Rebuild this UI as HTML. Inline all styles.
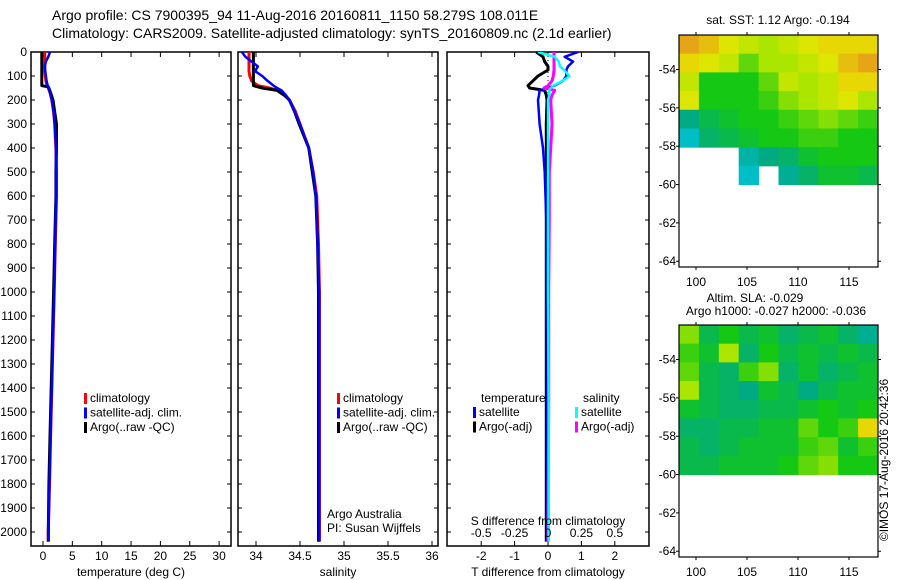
<!DOCTYPE html>
<html><head><meta charset="utf-8"><style>
body{margin:0;background:#fff;}
svg{display:block;font-family:"Liberation Sans",sans-serif;}
text{fill:#000;}
</style></head><body>
<svg id="c" width="900" height="580" xmlns="http://www.w3.org/2000/svg">
<text x="52" y="20" font-size="14">Argo profile: CS 7900395_94 11-Aug-2016 20160811_1150 58.279S 108.011E</text>
<text x="52" y="38" font-size="14">Climatology: CARS2009. Satellite-adjusted climatology: synTS_20160809.nc (2.1d earlier)</text>
<text x="778" y="24" font-size="12" text-anchor="middle">sat. SST: 1.12 Argo: -0.194</text>
<text x="755" y="302" font-size="12" text-anchor="middle">Altim. SLA: -0.029</text>
<text x="776" y="315" font-size="12" text-anchor="middle">Argo h1000: -0.027 h2000: -0.036</text>
<text transform="translate(888,460) rotate(-90)" font-size="12" text-anchor="middle">©IMOS 17-Aug-2016 20:42:36</text>
</svg>
<script>
// ---- data ----
const depthT=[0,20,40,60,80,100,120,140,145,150,170,200,250,300,400,500,600,800,1000,1200,1400,1600,1800,2000,2040];
const tempArgo=[-0.2,-0.2,-0.2,-0.2,-0.2,-0.2,-0.2,-0.2,0.9,1.0,1.3,1.7,2.0,2.3,2.3,2.2,2.2,2.0,1.8,1.6,1.4,1.2,1.0,0.9,0.9];
const tempSat=[1.2,0.9,0.5,0.3,0.4,0.5,0.6,0.8,0.9,1.0,1.2,1.5,1.8,2.0,2.2,2.2,2.2,2.1,1.9,1.7,1.5,1.3,1.1,0.9,0.9];
const tempClim=[0.3,0.3,0.3,0.3,0.3,0.4,0.5,0.7,0.8,0.9,1.2,1.5,1.8,2.0,2.2,2.3,2.3,2.1,1.9,1.7,1.5,1.3,1.1,0.9,0.9];
const depthS=[0,20,40,60,80,100,120,140,150,160,180,200,250,300,400,500,600,800,1000,1400,1800,2040];
const salArgo=[33.97,33.97,33.97,33.97,33.97,33.97,33.97,33.97,34.07,34.24,34.32,34.38,34.44,34.49,34.6,34.64,34.68,34.7,34.71,34.71,34.71,34.71];
const salSat=[33.84,33.88,33.95,34.02,33.99,34.07,34.13,34.2,34.24,34.29,34.34,34.38,34.44,34.5,34.6,34.65,34.68,34.7,34.72,34.72,34.72,34.72];
const salClim=[33.92,33.92,33.92,33.92,33.92,33.93,33.95,34.02,34.15,34.25,34.33,34.38,34.45,34.5,34.6,34.65,34.69,34.71,34.72,34.72,34.72,34.72];
const depthD=[0,20,40,60,75,100,120,140,150,160,180,200,300,400,500,700,1000,1500,2040];
const dTsat=[0.9,0.5,0.75,0.6,0.55,0.55,0.45,0.2,0.0,-0.25,-0.27,-0.3,-0.25,-0.15,-0.1,-0.05,-0.05,-0.03,-0.02];
const dTargo=[-0.35,-0.15,-0.1,0.0,0.0,-0.3,-0.45,-0.6,-0.55,-0.1,-0.05,-0.03,-0.05,-0.05,-0.05,-0.05,-0.05,-0.05,-0.05];
const dSsat=[-0.075,0.05,0.08,0.09,0.12,0.16,0.11,0.04,0.02,0.01,0.01,0.0,0.0,0.0,0.0,0.0,0.0,0.005,0.005];
const dSargo=[0.045,0.045,0.045,0.045,0.045,0.04,0.03,0.0,-0.03,0.05,0.03,0.02,0.03,0.02,0.01,0.01,0.005,0.005,0.0];
const depthTicks=[0,100,200,300,400,500,600,700,800,900,1000,1100,1200,1300,1400,1500,1600,1700,1800,1900,2000];
const tempTicks=[0,5,10,15,20,25,30];
const salTicks=[34,34.5,35,35.5,36];
const salTickLabels=["34","34.5","35","35.5","36"];
const dTTicks=[-2,-1,0,1,2];
const dSTicks=[-0.5,-0.25,0,0.25,0.5];
const latTicks=[-54,-56,-58,-60,-62,-64];
const lonTicks=[100,105,110,115];
const sstGrid=[
[0.95,0.9,0.8,0.75,0.7,0.75,0.8,0.85,0.85,0.85],
[0.85,0.8,0.75,0.6,0.7,0.7,0.75,0.8,0.9,0.95],
[0.75,0.5,0.5,0.5,0.6,0.75,0.7,0.75,0.85,0.85],
[0.8,0.5,0.5,0.5,0.55,0.65,0.7,0.75,0.8,0.7],
[0.3,0.4,0.45,0.5,0.5,0.55,0.6,0.65,0.6,0.55],
[0.1,0.35,0.4,0.45,0.5,0.5,0.55,0.55,0.5,0.5],
[null,null,null,0.2,0.3,0.35,0.45,0.5,0.5,0.5],
[null,null,null,0.1,null,0.25,0.35,0.45,0.45,0.4]];
const slaGrid=[
[0.65,0.4,0.5,0.4,0.45,0.35,0.4,0.45,0.35,0.25],
[0.55,0.45,0.7,0.35,0.5,0.4,0.45,0.4,0.45,0.4],
[0.6,0.4,0.35,0.55,0.65,0.35,0.45,0.35,0.4,0.45],
[0.7,0.4,0.35,0.3,0.45,0.4,0.3,0.4,0.45,0.45],
[0.45,0.4,0.35,0.35,0.4,0.4,0.45,0.5,0.45,0.5],
[0.35,0.35,0.4,0.4,0.45,0.45,0.6,0.5,0.55,0.85],
[0.4,0.35,0.4,0.45,0.45,0.45,0.55,0.6,0.45,0.55],
[0.4,0.4,0.45,0.45,0.45,0.5,0.6,0.65,0.5,0.5]];

const svg=document.getElementById('c');
const NS='http://www.w3.org/2000/svg';
function mk(tag,attrs,parent){const e=document.createElementNS(NS,tag);for(const k in attrs)e.setAttribute(k,attrs[k]);(parent||svg).appendChild(e);return e;}
const yD=d=>52+d*0.24;
const TOP=52,BOT=546;
const defs=mk('defs',{});
let clipN=0;

function panel(x0,x1,name,xs,ticks,labels,xtitle,showY){
  const g=mk('g',{});
  
  
  const id='clip'+(clipN++);
  const cp=mk('clipPath',{id:id},defs);
  mk('rect',{x:x0,y:TOP,width:x1-x0,height:BOT-TOP},cp);
  g.clipId=id;
  mk('rect',{x:x0,y:TOP,width:x1-x0,height:BOT-TOP,fill:'none',stroke:'#000','stroke-width':1.5},g);
  depthTicks.forEach(d=>{
    mk('line',{x1:x0,x2:x0+4,y1:yD(d),y2:yD(d),stroke:'#000'},g);
    mk('line',{x1:x1-4,x2:x1,y1:yD(d),y2:yD(d),stroke:'#000'},g);
    if(showY){const t=mk('text',{x:27,y:yD(d)+4,'font-size':12,'text-anchor':'end'},g);t.textContent=d;
      
      }
  });
  ticks.forEach((v,i)=>{
    const x=xs(v);
    mk('line',{x1:x,x2:x,y1:TOP,y2:TOP+5,stroke:'#000'},g);
    mk('line',{x1:x,x2:x,y1:BOT-5,y2:BOT,stroke:'#000'},g);
    if(labels){const t=mk('text',{x:x,y:560,'font-size':12,'text-anchor':'middle'},g);t.textContent=labels[i];
      
      }
  });
  const tt=mk('text',{x:(x0+x1)/2,y:576,'font-size':12,'text-anchor':'middle'},g);tt.textContent=xtitle;
  
  
  return g;
}
function line(g,depths,vals,xs,col,name,w){
  const pts=depths.map((d,i)=>xs(vals[i]).toFixed(1)+','+yD(d).toFixed(1)).join(' ');
  const p=mk('polyline',{points:pts,fill:'none',stroke:col,'stroke-width':w||3,'stroke-linejoin':'round','clip-path':'url(#'+g.clipId+')'},g);
  
  
}
function legend(g,x,y,items){
  items.forEach((it,i)=>{
    mk('rect',{x:x,y:y+i*14.5-9,width:3,height:11,fill:it[1]},g);
    const t=mk('text',{x:x+6,y:y+i*14.5,'font-size':12},g);t.textContent=it[0];
    
    
  });
}
// panel 1 temperature
const xT=v=>43+v*5.87;
const g1=panel(31,231,'temperature-panel',xT,tempTicks,tempTicks.map(String),'temperature (deg C)',true);
line(g1,depthT,tempClim,xT,'#f00','temp-climatology-line');
line(g1,depthT,tempArgo,xT,'#000','temp-argo-line');
line(g1,depthT,tempSat,xT,'#00f','temp-satellite-line',2.5);
legend(g1,84,402,[['climatology','#f00'],['satellite-adj. clim.','#00f'],['Argo(..raw -QC)','#000']]);
// panel 2 salinity
const xS=v=>256+(v-34)*88;
const g2=panel(238,438,'salinity-panel',xS,salTicks,salTickLabels,'salinity',false);
line(g2,depthS,salClim,xS,'#f00','sal-climatology-line');
line(g2,depthS,salArgo,xS,'#000','sal-argo-line');
line(g2,depthS,salSat,xS,'#00f','sal-satellite-line',2.5);
legend(g2,337,402,[['climatology','#f00'],['satellite-adj. clim.','#00f'],['Argo(..raw -QC)','#000']]);
const a1=mk('text',{x:327,y:518,'font-size':12},g2);a1.textContent='Argo Australia';


const a2=mk('text',{x:327,y:532,'font-size':12},g2);a2.textContent='PI: Susan Wijffels';


// panel 3 differences
const xDT=v=>548+v*33.4;
const xDS=v=>548+v*133.6;
const g3=panel(447,649,'difference-panel',xDT,dTTicks,dTTicks.map(String),'T difference from climatology',false);
mk('line',{x1:548,x2:548,y1:TOP,y2:BOT,stroke:'#000','stroke-dasharray':'1,3'},g3);
line(g3,depthD,dTargo,xDT,'#000','tdiff-argo-line');
line(g3,depthD,dTsat,xDT,'#00f','tdiff-satellite-line',2.5);
line(g3,depthD,dSargo,xDS,'#f0f','sdiff-argo-line');
line(g3,depthD,dSsat,xDS,'#0ff','sdiff-satellite-line',2.5);
dSTicks.forEach(v=>{const t=mk('text',{x:xDS(v),y:537,'font-size':12,'text-anchor':'middle'},g3);t.textContent=String(v);
  
  });
const sd=mk('text',{x:548,y:525,'font-size':12,'text-anchor':'middle'},g3);sd.textContent='S difference from climatology';


const lt=mk('text',{x:481,y:402,'font-size':12},g3);lt.textContent='temperature';


const ls=mk('text',{x:583,y:402,'font-size':12},g3);ls.textContent='salinity';


legend(g3,473,416,[['satellite','#00f'],['Argo(-adj)','#000']]);
legend(g3,575,416,[['satellite','#0ff'],['Argo(-adj)','#f0f']]);

// maps
function cmap(v){
  const st=[[0,[0,200,230]],[0.3,[0,170,130]],[0.5,[20,200,20]],[0.7,[170,230,0]],[0.82,[230,230,0]],[1,[230,140,30]]];
  for(let i=1;i<st.length;i++){if(v<=st[i][0]){const a=st[i-1],b=st[i],f=(v-a[0])/(b[0]-a[0]);
    return 'rgb('+a[1].map((c,k)=>Math.round(c+(b[1][k]-c)*f)).join(',')+')';}}
  return 'rgb(230,140,30)';
}
function map(top,bot,latTop,grid,name){
  const L=679,R=878;
  const xL=lon=>696+(lon-100)*10.2;
  const yL=lat=>top+(latTop-lat)*((bot-top)/(latTop+64.3));
  const g=mk('g',{});
  
  
  const rows=grid.length,cols=grid[0].length;
  const cw=(R-L)/cols,y60=yL(-60),rh=(y60-top)/rows;
  grid.forEach((row,r)=>row.forEach((v,c)=>{
    if(v===null)return;
    const cell=mk('rect',{x:L+c*cw,y:top+r*rh,width:cw+0.5,height:rh+0.5,fill:cmap(v)},g);
    
    
  }));
  mk('rect',{x:L,y:top,width:R-L,height:bot-top,fill:'none',stroke:'#000','stroke-width':1.2},g);
  latTicks.forEach(lat=>{const y=yL(lat);
    mk('line',{x1:L-3,x2:L,y1:y,y2:y,stroke:'#000'},g);mk('line',{x1:R,x2:R+3,y1:y,y2:y,stroke:'#000'},g);
    const t=mk('text',{x:L-3,y:y+4,'font-size':12,'text-anchor':'end'},g);t.textContent=String(lat);
    
    });
  lonTicks.forEach(lon=>{const x=xL(lon);
    mk('line',{x1:x,x2:x,y1:top-3,y2:top,stroke:'#000'},g);mk('line',{x1:x,x2:x,y1:bot,y2:bot+3,stroke:'#000'},g);
    const t=mk('text',{x:x,y:bot+19,'font-size':12,'text-anchor':'middle'},g);t.textContent=lon;
    
    });
}
map(35,267,-52.2,sstGrid,'sst-map');
map(325,557,-52.2,slaGrid,'sla-map');
</script>
</body></html>
